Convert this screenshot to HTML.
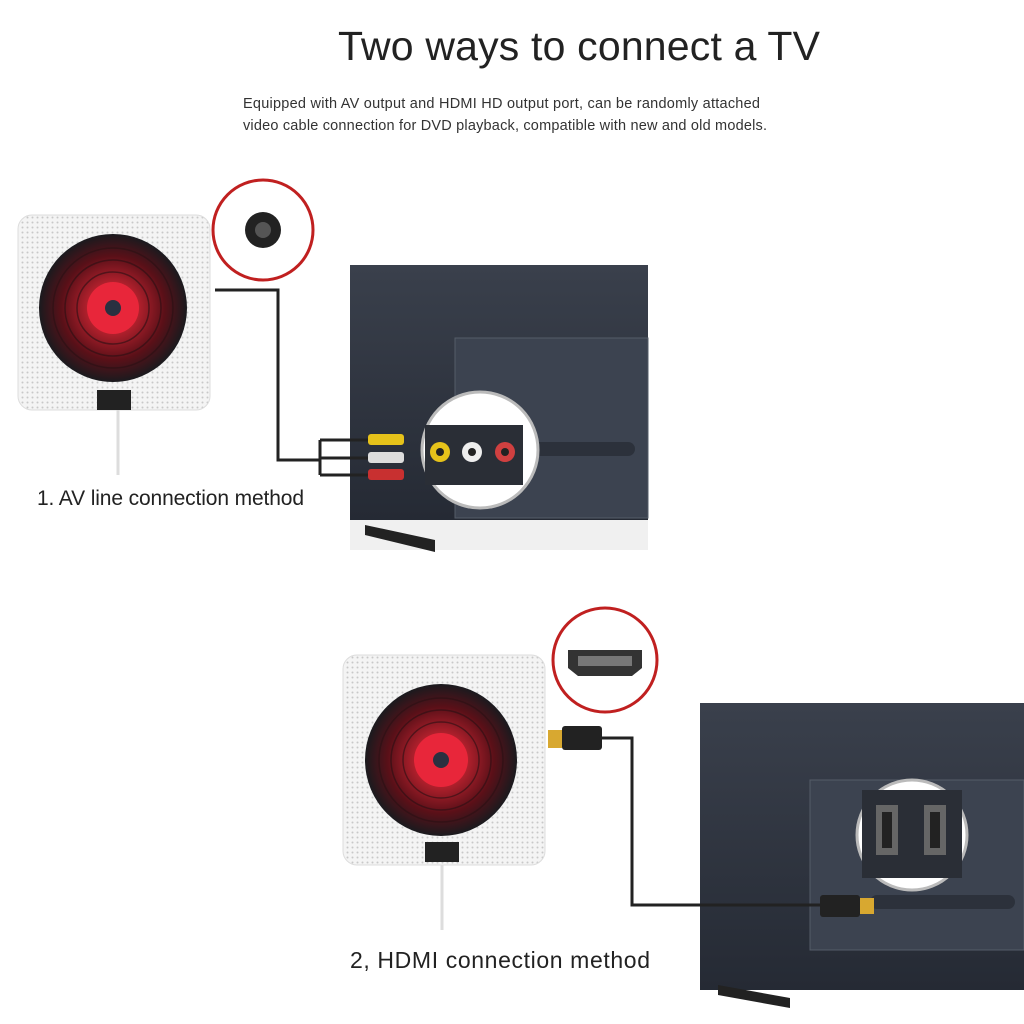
<!DOCTYPE html>
<html><head><meta charset="utf-8"><style>
html,body{margin:0;padding:0;background:#fff;width:1024px;height:1024px;overflow:hidden}
svg{display:block}
text{font-family:"Liberation Sans","DejaVu Sans",sans-serif}
</style></head><body>
<svg width="1024" height="1024" viewBox="0 0 1024 1024">
<defs>
<pattern id="dots" width="5" height="5" patternUnits="userSpaceOnUse"><rect width="5" height="5" fill="#f4f4f4"/><circle cx="2.5" cy="2.5" r="1" fill="#c8c8c8"/></pattern>
<radialGradient id="disc" cx="50%" cy="50%" r="50%"><stop offset="0.35" stop-color="#b0202c"/><stop offset="0.7" stop-color="#5a1018"/><stop offset="1" stop-color="#1a1a1e"/></radialGradient>
<linearGradient id="tv" x1="0" y1="0" x2="0" y2="1"><stop offset="0" stop-color="#3a404c"/><stop offset="1" stop-color="#252a34"/></linearGradient>
</defs>
<text x="579" y="60" font-size="41" text-anchor="middle" fill="#222" textLength="482">Two ways to connect a TV</text>
<text x="243" y="108" font-size="14.5" fill="#333" textLength="517">Equipped with AV output and HDMI HD output port, can be randomly attached</text>
<text x="243" y="130" font-size="14.5" fill="#333" textLength="524">video cable connection for DVD playback, compatible with new and old models.</text>

<!-- TV 1 -->
<rect x="350" y="520" width="298" height="30" fill="#f0f0f0"/>
<rect x="350" y="265" width="298" height="255" fill="url(#tv)"/>
<rect x="455" y="338" width="193" height="180" fill="#3c4350" stroke="#555c68"/>
<rect x="495" y="442" width="140" height="14" rx="7" fill="#2c313b"/>
<path d="M365 525 L435 540 L435 552 L365 535Z" fill="#222"/>
<!-- device 1 -->
<rect x="18" y="215" width="192" height="195" rx="14" fill="url(#dots)" stroke="#ddd"/>
<circle cx="113" cy="308" r="74" fill="url(#disc)"/>
<g fill="none" stroke="#2a1014" stroke-width="1.5" opacity="0.6"><circle cx="113" cy="308" r="60"/><circle cx="113" cy="308" r="48"/><circle cx="113" cy="308" r="36"/></g>
<circle cx="113" cy="308" r="26" fill="#e8263a"/>
<circle cx="113" cy="308" r="8" fill="#2a3040"/>
<rect x="97" y="390" width="34" height="20" fill="#222"/>
<line x1="118" y1="410" x2="118" y2="475" stroke="#ddd" stroke-width="3"/>
<!-- cable 1 -->
<path d="M215 290 L278 290 L278 460 L320 460" fill="none" stroke="#222" stroke-width="3"/>
<path d="M320 440 L320 475 M320 440 L370 440 M320 458 L370 458 M320 475 L370 475" fill="none" stroke="#222" stroke-width="3"/>
<rect x="368" y="434" width="36" height="11" rx="3" fill="#e6c21a"/>
<rect x="368" y="452" width="36" height="11" rx="3" fill="#ddd"/>
<rect x="368" y="469" width="36" height="11" rx="3" fill="#c83030"/>
<circle cx="263" cy="230" r="50" fill="#fff" stroke="#c02020" stroke-width="3"/>
<circle cx="263" cy="230" r="18" fill="#222"/><circle cx="263" cy="230" r="8" fill="#555"/>
<circle cx="480" cy="450" r="58" fill="#fff" stroke="#bbb" stroke-width="3"/>
<rect x="425" y="425" width="98" height="60" fill="#2a2e36"/>
<circle cx="440" cy="452" r="10" fill="#e6c21a"/><circle cx="440" cy="452" r="4" fill="#222"/>
<circle cx="472" cy="452" r="10" fill="#eee"/><circle cx="472" cy="452" r="4" fill="#222"/>
<circle cx="505" cy="452" r="10" fill="#d04040"/><circle cx="505" cy="452" r="4" fill="#222"/>
<text x="37" y="505" font-size="21" fill="#222" textLength="267">1. AV line connection method</text>

<!-- TV 2 -->
<rect x="700" y="703" width="324" height="287" fill="url(#tv)"/>
<rect x="810" y="780" width="214" height="170" fill="#3c4350" stroke="#555c68"/>
<rect x="870" y="895" width="145" height="14" rx="7" fill="#2c313b"/>
<path d="M718 985 L790 998 L790 1008 L718 995Z" fill="#222"/>
<!-- device 2 -->
<rect x="343" y="655" width="202" height="210" rx="14" fill="url(#dots)" stroke="#ddd"/>
<circle cx="441" cy="760" r="76" fill="url(#disc)"/>
<g fill="none" stroke="#2a1014" stroke-width="1.5" opacity="0.6"><circle cx="441" cy="760" r="62"/><circle cx="441" cy="760" r="50"/><circle cx="441" cy="760" r="38"/></g>
<circle cx="441" cy="760" r="27" fill="#e8263a"/>
<circle cx="441" cy="760" r="8" fill="#2a3040"/>
<rect x="425" y="842" width="34" height="20" fill="#222"/>
<line x1="442" y1="865" x2="442" y2="930" stroke="#ddd" stroke-width="3"/>
<!-- cable 2 -->
<rect x="548" y="730" width="14" height="18" fill="#d8a830"/>
<rect x="562" y="726" width="40" height="24" rx="3" fill="#222"/>
<path d="M602 738 L632 738 L632 905 L820 905" fill="none" stroke="#222" stroke-width="3"/>
<rect x="820" y="895" width="40" height="22" rx="3" fill="#222"/>
<rect x="860" y="898" width="14" height="16" fill="#d8a830"/>
<circle cx="605" cy="660" r="52" fill="#fff" stroke="#c02020" stroke-width="3"/>
<path d="M568 650 L642 650 L642 668 L632 676 L578 676 L568 668Z" fill="#333"/>
<rect x="578" y="656" width="54" height="10" fill="#777"/>
<circle cx="912" cy="835" r="55" fill="#fff" stroke="#bbb" stroke-width="3"/>
<rect x="862" y="790" width="100" height="88" fill="#2a2e36"/>
<rect x="876" y="805" width="22" height="50" fill="#666"/><rect x="882" y="812" width="10" height="36" fill="#222"/>
<rect x="924" y="805" width="22" height="50" fill="#666"/><rect x="930" y="812" width="10" height="36" fill="#222"/>
<text x="350" y="968" font-size="23" fill="#222" textLength="300">2, HDMI connection method</text>
</svg>
</body></html>
